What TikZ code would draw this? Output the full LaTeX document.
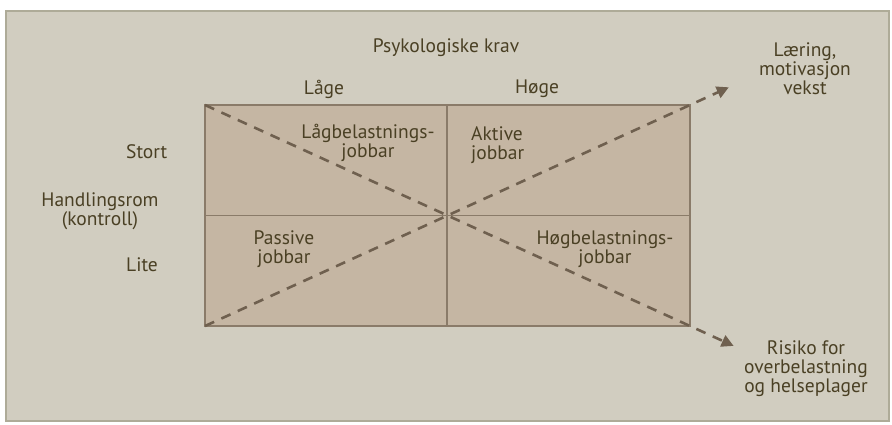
\documentclass[tikz,border=0pt]{standalone}
\usepackage{fontspec}
\setmainfont{PT Sans}
\usetikzlibrary{arrows.meta,calc}
\definecolor{bgc}{HTML}{D1CDC0}
\definecolor{framec}{HTML}{AEAB98}
\definecolor{boxc}{HTML}{C5B6A3}
\definecolor{boxline}{HTML}{8A7B69}
\definecolor{dashc}{HTML}{6F604F}
\definecolor{txt}{HTML}{4A4024}
\tikzset{
  lbl/.style={text=txt, font=\fontsize{19.5}{19}\selectfont, inner sep=0pt, align=center},
  lbll/.style={lbl, align=left},
  diag/.style={draw=dashc, line width=2.6pt, dash pattern=on 10pt off 8pt, -{Triangle[length=12pt,width=12pt]}},
}
\begin{document}
\begin{tikzpicture}[x=1pt,y=-1pt]
\useasboundingbox (0,0) rectangle (892,424);
\fill[white] (0,0) rectangle (892,424);
\draw[framec, line width=2pt, fill=bgc] (6,11) rectangle (889,421);
% quadrant box
\coordinate (tl) at (205,105);
\coordinate (tr) at (690,105);
\coordinate (bl) at (205,326);
\coordinate (br) at (690,326);
\coordinate (c) at (447,215.5);
\coordinate (tm) at (447,105);
\coordinate (bm) at (447,326);
\coordinate (lm) at (205,215.5);
\coordinate (rm) at (690,215.5);
\draw[boxline, line width=1.6pt, fill=boxc] (tl) rectangle (br);
\draw[boxline, line width=1.2pt] (tm) -- (bm);
\draw[boxline, line width=1.2pt] (lm) -- (rm);
\coordinate (aTR) at ($(bl)!1.08!(tr)$);
\coordinate (aBR) at ($(tl)!1.09!(br)$);
\draw[diag] (bl) -- (aTR);
\draw[diag] (tl) -- (aBR);
% labels
\node[lbl] (psy) at (446,48) {Psykologiske krav};
\node[lbl] (lage) at (324,89) {Låge};
\node[lbl] (hoge) at (537,89) {Høge};
\node[lbl, font=\fontsize{19.5}{17}\selectfont] (laer) at (805,69) {Læring,\\motivasjon\\vekst};
\node[lbll, anchor=west] (stort) at (126,152) {Stort};
\node[lbl] (handl) at (100,211) {Handlingsrom\\(kontroll)};
\node[lbll, anchor=west] (lite) at (126,265) {Lite};
\node[lbl] (lagb) at (368,143) {Lågbelastnings-\\jobbar};
\node[lbll, anchor=north west] (akt) at (471,126) {Aktive\\jobbar};
\node[lbl] (pass) at (284,249) {Passive\\jobbar};
\node[lbl] (hogb) at (605,249) {Høgbelastnings-\\jobbar};
\node[lbl] (risk) at (806,369) {Risiko for\\overbelastning\\og helseplager};
\end{tikzpicture}
\end{document}
